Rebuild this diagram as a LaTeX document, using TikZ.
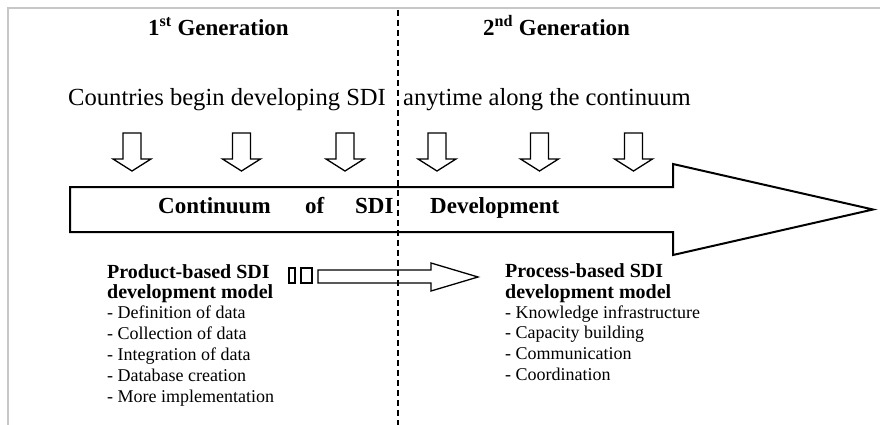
\documentclass[tikz,border=0pt]{standalone}
\usepackage{fontspec}
\setmainfont{Liberation Serif}
\begin{document}
\begin{tikzpicture}[x=1pt,y=-1pt,
  frame/.style={draw=black!22, line width=1.5pt},
  divider/.style={draw=black, line width=1.4pt, dash pattern=on 6pt off 4pt},
  bigarrow/.style={draw=black, line width=2pt, fill=white, line join=miter},
  smallarrow/.style={draw=black, line width=1.3pt, fill=white, line join=miter},
  gentitle/.style={font=\bfseries\fontsize{23}{26}\selectfont, anchor=base west, inner sep=0},
  leadtext/.style={font=\fontsize{24.6}{28}\selectfont, anchor=base west, inner sep=0},
  contword/.style={font=\bfseries\fontsize{23}{26}\selectfont, anchor=base west, inner sep=0},
  headline/.style={font=\bfseries\fontsize{20}{22}\selectfont, anchor=base west, inner sep=0},
  itemline/.style={font=\fontsize{18}{21}\selectfont, anchor=base west, inner sep=0}]
\useasboundingbox (0,0) rectangle (880,425);
\fill[white] (0,0) rectangle (880,425);
% frame
\draw[frame] (880,8) -- (8,8) -- (8,425);
% generation titles
\node[gentitle] (gen1) at (148,36) {1\textsuperscript{st} Generation};
\node[gentitle] (gen2) at (483,36) {2\textsuperscript{nd} Generation};
\node[leadtext] (leadA) at (68,106) {Countries begin developing SDI};
\node[leadtext] (leadB) at (403,106) {anytime along the continuum};
% small down arrows
\foreach \i/\cx in {1/132,2/241.5,3/345,4/437,5/539.5,6/633.5}{
  \draw[smallarrow] (\cx-9,133) -- (\cx+9,133) -- (\cx+9,159) -- (\cx+19,159)
     -- (\cx,171) -- (\cx-19,159) -- (\cx-9,159) -- cycle;
}
% big arrow
\draw[bigarrow] (70,187) -- (673,187) -- (673,164) -- (873,209.5) -- (673,255)
   -- (673,232) -- (70,232) -- cycle;
\node[contword] (w1) at (158,213) {Continuum};
\node[contword] (w2) at (305,213) {of};
\node[contword] (w3) at (355,213) {SDI};
\node[contword] (w4) at (430,213) {Development};
% middle arrow
\draw[smallarrow] (289,268) rectangle (295,283);
\draw[smallarrow] (301,268) rectangle (312,283);
\draw[smallarrow] (318,270) -- (431,270) -- (431,263) -- (478,277) -- (431,291)
   -- (431,283) -- (318,283) -- cycle;
% left block
\node[headline] (ph1) at (107,278) {Product-based SDI};
\node[headline] (ph2) at (107,298) {development model};
\foreach \t [count=\i] in {Definition of data,Collection of data,Integration of data,Database creation,More implementation}{
  \node[itemline] (pl\i) at (107,{318+21*(\i-1)}) {- \t};
}
% right block
\node[headline] (rh1) at (505,277) {Process-based SDI};
\node[headline] (rh2) at (505,298) {development model};
\foreach \t [count=\i] in {Knowledge infrastructure,Capacity building,Communication,Coordination}{
  \node[itemline] (rl\i) at (505,{318+20.7*(\i-1)}) {- \t};
}
% dashed divider
\draw[divider] (398,10) -- (398,425);
\end{tikzpicture}
\end{document}
